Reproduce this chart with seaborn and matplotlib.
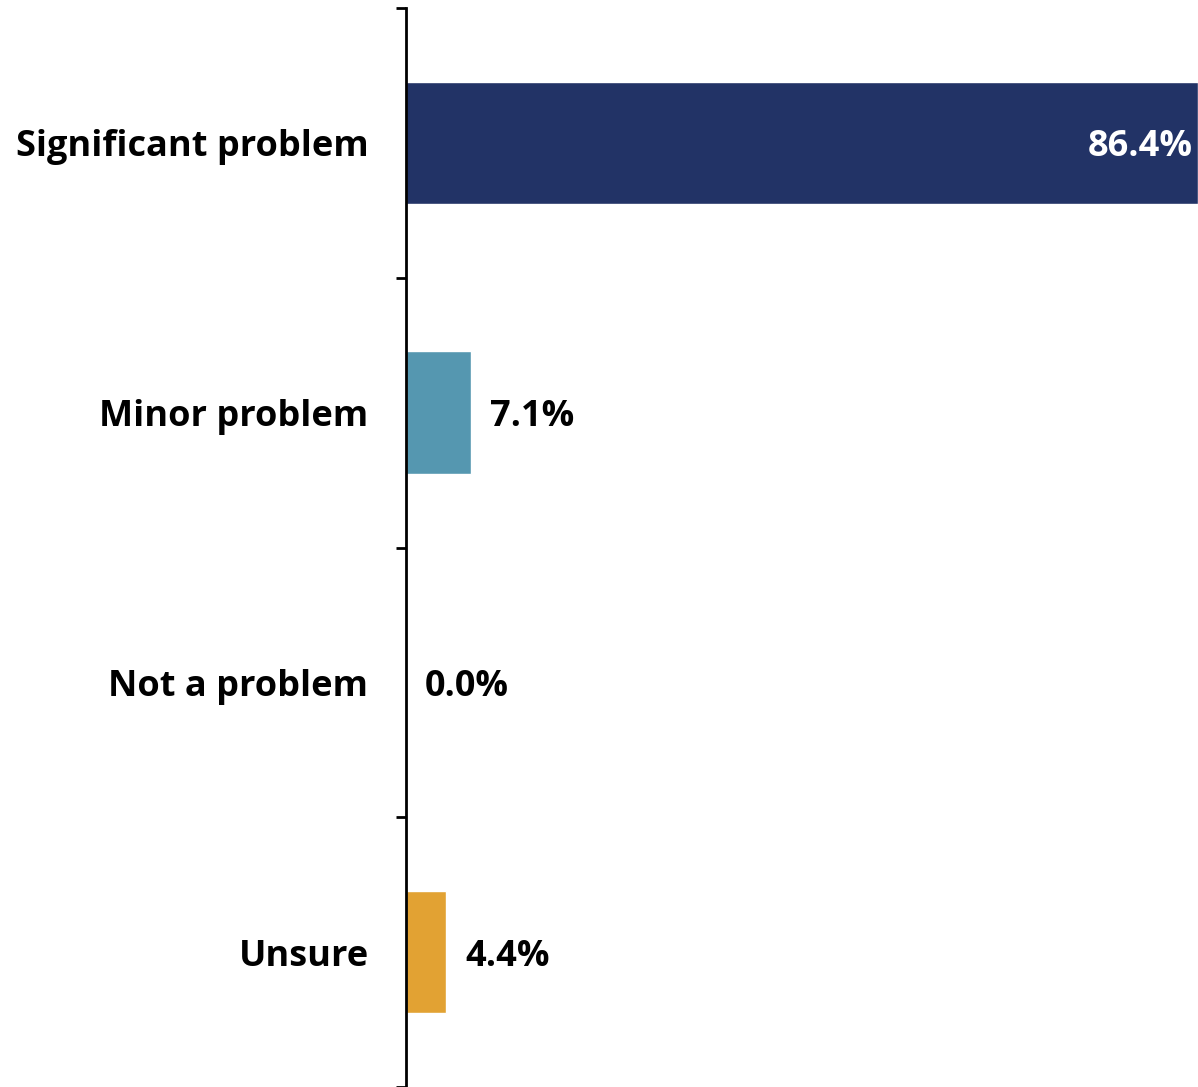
import matplotlib
matplotlib.use("Agg")
import matplotlib.pyplot as plt
import seaborn as sns
import pandas as pd
from matplotlib.ticker import FixedLocator

categories = ["Significant problem", "Minor problem", "Not a problem", "Unsure"]
values = [86.4, 7.1, 0.0, 4.4]
colors = ["#223366", "#5597B0", "#7FAF5A", "#E2A233"]
value_labels = ["86.4%", "7.1%", "0.0%", "4.4%"]

sns.set_theme(style="white")
plt.rcParams["font.family"] = ["Open Sans", "DejaVu Sans"]

df = pd.DataFrame({"category": categories, "value": values})

fig = plt.figure(figsize=(11.98, 10.87), dpi=100)
ax = fig.add_axes([406 / 1198, 0.0, 1 - 406 / 1198, 1 - 8 / 1087])

sns.barplot(data=df, x="value", y="category", hue="category", palette=colors,
            orient="h", width=0.455, legend=False, ax=ax, saturation=1)

ax.set_xlim(0, 86.4)
ax.set_ylim(3.5, -0.5)
ax.set_xlabel("")
ax.set_ylabel("")
ax.set_xticks([])
for s in ["top", "right", "bottom"]:
    ax.spines[s].set_visible(False)
ax.spines["left"].set_color("black")
ax.spines["left"].set_linewidth(2)

ax.yaxis.set_minor_locator(FixedLocator([-0.5, 0.5, 1.5, 2.5, 3.5]))
ax.tick_params(axis="y", which="major", length=0, pad=27, labelsize=26)
ax.tick_params(axis="y", which="minor", left=True, length=7, width=2, color="black")
for lab in ax.get_yticklabels():
    lab.set_fontweight("bold")
    lab.set_color("black")

for i, (v, t) in enumerate(zip(values, value_labels)):
    if v > 40:
        ax.text(v - 0.6, i, t, ha="right", va="center_baseline", fontsize=26,
                fontweight="bold", color="white")
    else:
        ax.text(v + 2.1, i, t, ha="left", va="center_baseline", fontsize=26,
                fontweight="bold", color="black")

fig.savefig("out.png", dpi=100)
